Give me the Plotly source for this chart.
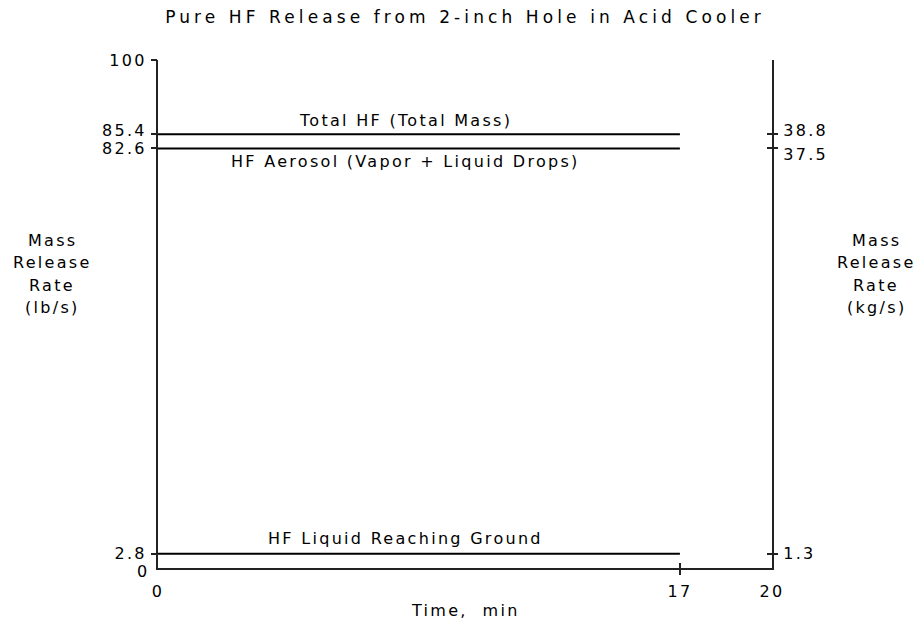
import plotly.graph_objects as go

# ---------------- Data ----------------
time_min = [0, 17]
total_hf = [85.4, 85.4]
hf_aerosol = [82.6, 82.6]
hf_liquid = [2.8, 2.8]

series_names = ["Total HF (Total Mass)", "HF Aerosol (Vapor + Liquid Drops)", "HF Liquid Reaching Ground"]
series_values = [total_hf, hf_aerosol, hf_liquid]

left_tickvals = [2.8, 82.6, 85.4, 100]
left_ticktext = ["2.8", "82.6", "85.4", "100"]
zero_label = "0"
right_tickvals = [85.4, 82.6, 2.8]
right_ticktext = ["38.8", "37.5", "1.3"]
x_tickvals = [0, 17, 20]
x_ticktext = ["0", "17", "20"]

# ---------------- Style ----------------
FONT = "DejaVu Sans"
INK = "black"
AX = "#222"
W, H = 914, 614          # page has an 8px body margin in the 922x622 window
ML, MR, MT, MB = 150, 150, 52, 54
PLOT_H = H - MT - MB
PX = 100.0 / PLOT_H      # data units per pixel on the y axis

label_shift = [14, -13, 15]          # annotation offsets (px)
left_nudge_px = [0, 0, 3.5, 0]       # label offsets from ticks (px)
right_nudge_px = [4, -6.5, 0]


def sp(text, s=2.3):
    return '<span style="letter-spacing:%spx">%s</span>' % (s, text)


fig = go.Figure()
for name, vals in zip(series_names, series_values):
    fig.add_trace(go.Scatter(x=time_min, y=vals, mode="lines", name=name,
                             line=dict(color=INK, width=2), showlegend=False,
                             hoverinfo="skip"))

font16 = dict(family=FONT, size=16, color=INK)
annotations = []
for name, vals, sh in zip(series_names, series_values, label_shift):
    annotations.append(dict(x=8.05, y=vals[0], xref="x", yref="y", text=sp(name),
                            showarrow=False, yshift=sh, font=font16))

annotations.append(dict(x=0.5, y=0, xref="paper", yref="paper", text=sp("Time,  min"),
                        showarrow=False, yshift=-42, yanchor="middle", font=font16))

# "0" label of the left axis, set slightly below its tick as in the reference
annotations.append(dict(x=0, y=0, xref="paper", yref="y", text=sp(zero_label),
                        showarrow=False, xanchor="right", yanchor="middle",
                        xshift=-7, yshift=-3.5, font=font16))

left_lines = ["Mass", "Release", "Rate", "(lb/s)"]
right_lines = ["Mass", "Release", "Rate", "(kg/s)"]
line_centers = [240, 262.5, 285, 307.5]   # window px
for lines, xc in [(left_lines, 52), (right_lines, 876)]:
    for txt, yc in zip(lines, line_centers):
        yfig = yc - 8
        annotations.append(dict(
            x=(xc - 8 - ML) / (W - ML - MR), y=(H - MB - yfig) / PLOT_H,
            xref="paper", yref="paper", text=sp(txt), showarrow=False,
            xanchor="center", yanchor="middle", font=font16))

tickfont = font16
common_y = dict(range=[0, 100], fixedrange=True, showgrid=False, zeroline=False)
common_x = dict(range=[0, 20], fixedrange=True, showgrid=False, zeroline=False)

left_label_pos = [v + n * PX for v, n in zip(left_tickvals, left_nudge_px)]
right_label_pos = [v + n * PX for v, n in zip(right_tickvals, right_nudge_px)]

fig.update_layout(
    width=W, height=H,
    margin=dict(l=ML, r=MR, t=MT, b=MB),
    paper_bgcolor="white", plot_bgcolor="white",
    title=dict(text=sp("Pure HF Release from 2-inch Hole in Acid Cooler", 4.1),
               x=0.5, xref="paper", y=1 - 9 / H, yref="container", yanchor="middle",
               font=dict(family=FONT, size=17, color=INK)),
    annotations=annotations,
    # left labels + axis line
    yaxis=dict(**common_y, side="left", tickmode="array", tickvals=left_label_pos,
               ticktext=[sp(t) for t in left_ticktext], ticks="outside", ticklen=6,
               tickcolor="rgba(0,0,0,0)", tickfont=tickfont, ticklabelstandoff=0,
               showline=True, linecolor=AX, linewidth=2),
    # visible left outside ticks
    yaxis3=dict(**common_y, overlaying="y", side="left", tickmode="array",
                tickvals=[2.8, 82.6, 85.4, 100], ticks="outside", ticklen=6,
                tickwidth=2, tickcolor=AX, showticklabels=False, showline=False),
    # inside tick at 100
    yaxis4=dict(**common_y, overlaying="y", side="left", tickmode="array",
                tickvals=[100], ticks="inside", ticklen=5,
                tickwidth=2, tickcolor=AX, showticklabels=False, showline=False),
    # right labels + axis line
    yaxis2=dict(**common_y, overlaying="y", side="right", tickmode="array",
                tickvals=right_label_pos, ticktext=[sp(t) for t in right_ticktext],
                ticks="outside", ticklen=5, tickcolor="rgba(0,0,0,0)", tickfont=tickfont,
                ticklabelstandoff=1, showline=True, linecolor=AX, linewidth=2),
    # right crossing ticks
    yaxis5=dict(**common_y, overlaying="y", side="right", tickmode="array",
                tickvals=right_tickvals, ticks="outside", ticklen=5, tickwidth=2,
                tickcolor=AX, showticklabels=False, showline=False),
    yaxis6=dict(**common_y, overlaying="y", side="right", tickmode="array",
                tickvals=right_tickvals, ticks="inside", ticklen=5, tickwidth=2,
                tickcolor=AX, showticklabels=False, showline=False),
    # bottom labels + axis line
    xaxis=dict(**common_x, tickmode="array", tickvals=x_tickvals,
               ticktext=[sp(t) for t in x_ticktext],
               ticks="outside", ticklen=6, tickcolor="rgba(0,0,0,0)", tickfont=tickfont,
               ticklabelstandoff=2, showline=True, linecolor=AX, linewidth=2),
    xaxis2=dict(**common_x, overlaying="x", side="bottom", tickmode="array",
                tickvals=[17], ticks="outside", ticklen=6, tickwidth=2, tickcolor=AX,
                showticklabels=False, showline=False),
    xaxis3=dict(**common_x, overlaying="x", side="bottom", tickmode="array",
                tickvals=[17], ticks="inside", ticklen=5, tickwidth=2, tickcolor=AX,
                showticklabels=False, showline=False),
)

# invisible anchor traces so the overlay axes are rendered
for xa, ya in [("x2", "y3"), ("x3", "y4"), ("x", "y2"), ("x", "y5"), ("x", "y6")]:
    fig.add_trace(go.Scatter(x=[None], y=[None], xaxis=xa, yaxis=ya,
                             showlegend=False, hoverinfo="skip"))

fig.write_html("out.html", config={"displayModeBar": False})
